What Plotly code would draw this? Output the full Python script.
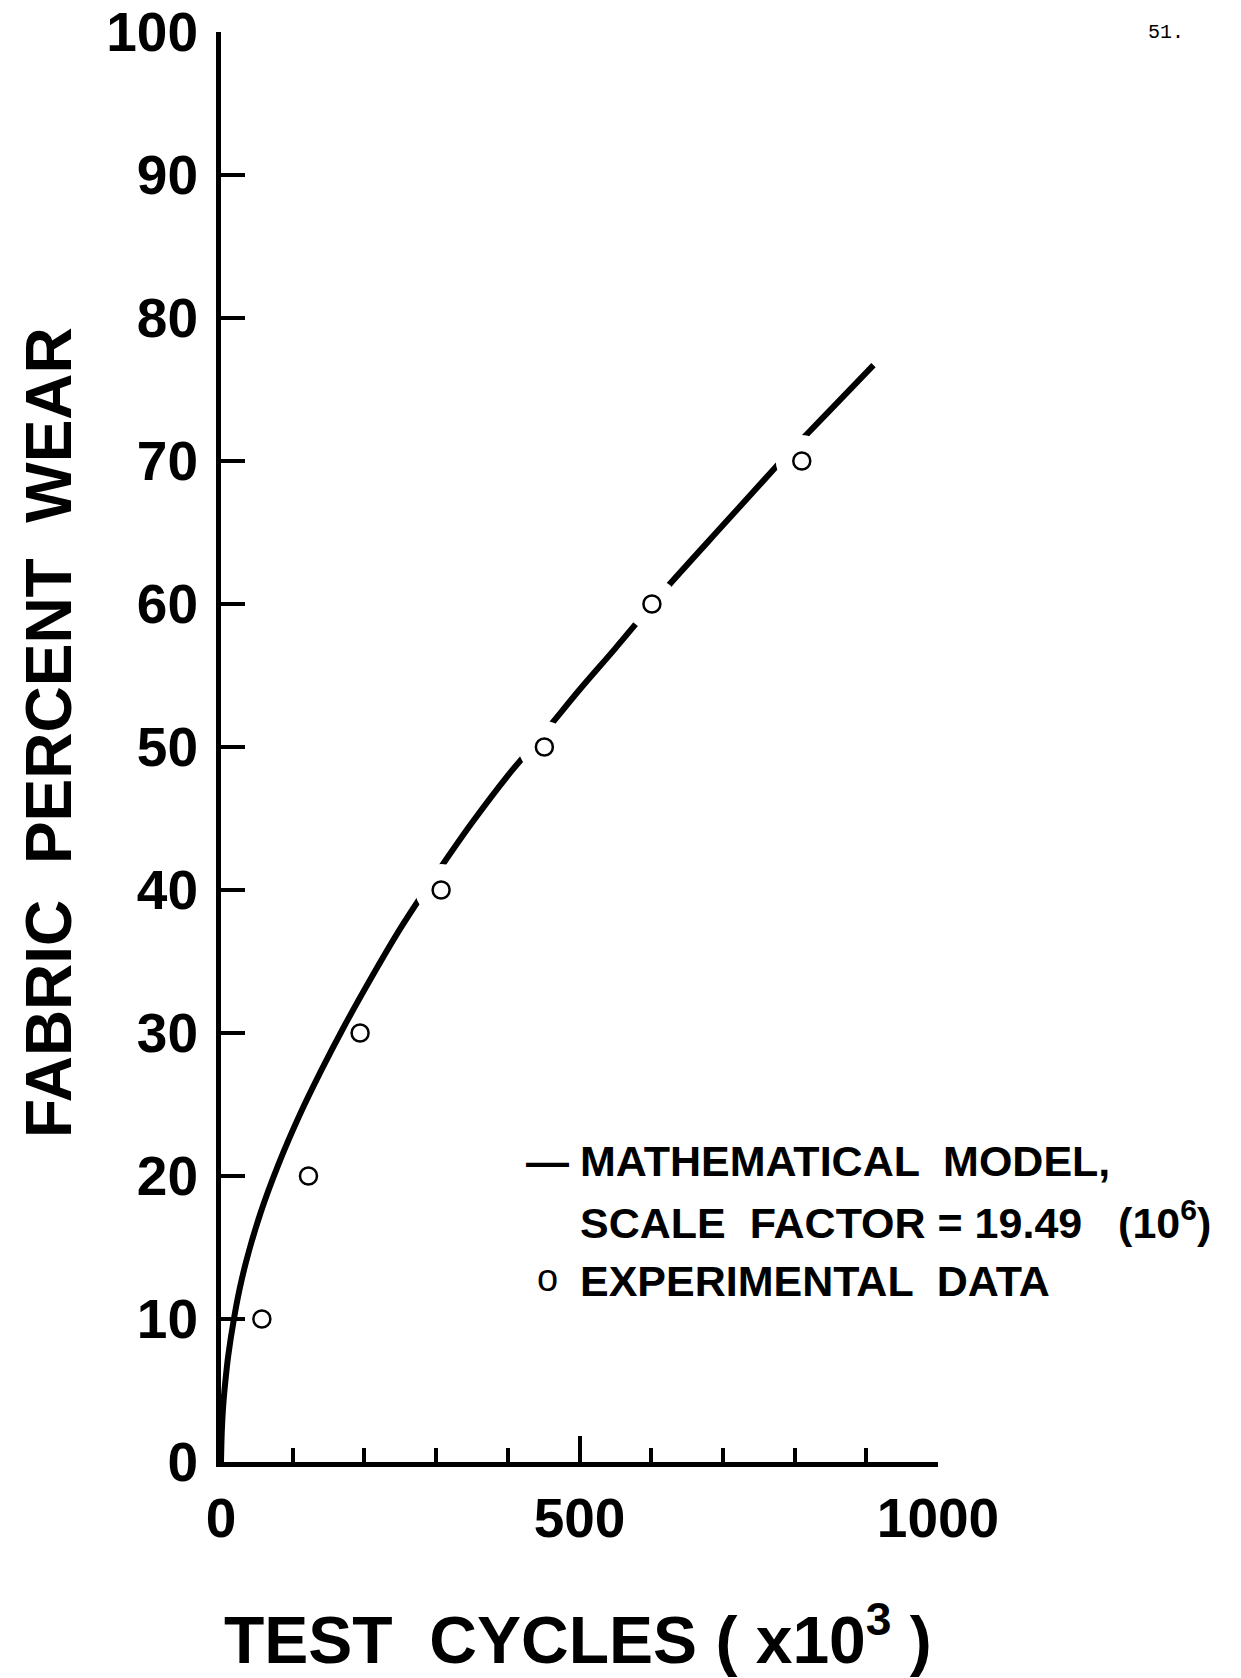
import plotly.graph_objects as go

exp_cycles = [57, 122, 194, 307, 451, 601, 810]
exp_wear = [10, 20, 30, 40, 50, 60, 70]

# Mathematical model curve
model_cycles = [0, 1, 3, 6, 10, 18, 26, 36, 55, 80, 110, 140, 170, 210, 250, 304, 350, 400, 454, 500, 550, 619, 700, 776, 808, 860, 910]
model_wear = [0, 2.0, 3.9, 5.6, 7.4, 10, 12.1, 14.2, 17.4, 20.8, 24.3, 27.4, 30.3, 33.9, 37.3, 41.4, 44.7, 48.0, 51.2, 54.0, 56.9, 61.0, 65.5, 69.7, 71.4, 74.1, 76.7]

x_ticks = [0, 500, 1000]
y_ticks = [0, 10, 20, 30, 40, 50, 60, 70, 80, 90, 100]

FONT = "Liberation Sans"

# white gap around the upper markers (the curve is broken there in the original)
halo_sizes = [0, 0, 0, 52, 52, 52, 52]

fig = go.Figure()
fig.add_trace(go.Scatter(x=model_cycles, y=model_wear, mode="lines",
                         line=dict(color="black", width=6, shape="spline", smoothing=0.8),
                         showlegend=False))
fig.add_trace(go.Scatter(x=exp_cycles, y=exp_wear, mode="markers",
                         marker=dict(symbol="circle", size=halo_sizes, color="white", opacity=1,
                                     line=dict(width=0)),
                         showlegend=False, hoverinfo="skip"))
fig.add_trace(go.Scatter(x=exp_cycles, y=exp_wear, mode="markers",
                         marker=dict(symbol="circle", size=17, color="white",
                                     line=dict(color="black", width=2.5)),
                         showlegend=False))

fig.update_layout(
    width=1241, height=1678,
    margin=dict(l=221, r=303, t=32, b=216, autoexpand=False),
    paper_bgcolor="white", plot_bgcolor="white",
    font=dict(family=FONT, color="black"),
    xaxis=dict(range=[0, 1000], tickvals=x_ticks, ticks="inside", ticklen=26, tickwidth=4,
               tickcolor="black", showline=True, linecolor="black", linewidth=5,
               showgrid=False, zeroline=False, automargin=False,
               tickfont=dict(family=FONT, size=55, color="black", weight="bold"),
               ticklabelstandoff=4,
               minor=dict(dtick=100, ticks="inside", ticklen=14, tickwidth=4, tickcolor="black", showgrid=False)),
    yaxis=dict(range=[0, 100], tickvals=y_ticks, ticks="inside", ticklen=24, tickwidth=4,
               tickcolor="black", showline=True, linecolor="black", linewidth=5,
               showgrid=False, zeroline=False, automargin=False,
               tickfont=dict(family=FONT, size=55, color="black", weight="bold"),
               ticklabelstandoff=7),
)

ann = []
ann.append(dict(text="TEST  CYCLES ( x10<sup>3</sup> )", xref="paper", yref="paper",
                x=0.498, y=-0.121, xanchor="center", yanchor="middle", showarrow=False,
                font=dict(family=FONT, size=66, color="black", weight="bold")))
ann.append(dict(text="FABRIC  PERCENT  WEAR", xref="paper", yref="paper",
                x=-0.241, y=0.51, xanchor="center", yanchor="middle", showarrow=False,
                textangle=-90,
                font=dict(family=FONT, size=64, color="black", weight="bold")))
ann.append(dict(text="51.", xref="paper", yref="paper", x=1.318, y=1.0,
                xanchor="center", yanchor="middle", showarrow=False,
                font=dict(family="Liberation Mono", size=20, color="black")))

leg_font = dict(family=FONT, size=43, color="black", weight="bold")
ann.append(dict(text="—", x=456, y=21.05, xref="x", yref="y", xanchor="center", yanchor="middle",
                showarrow=False, font=leg_font))
ann.append(dict(text="MATHEMATICAL  MODEL,", x=498, y=21.05, xref="x", yref="y",
                xanchor="left", yanchor="middle", showarrow=False, font=leg_font))
ann.append(dict(text="SCALE  FACTOR = 19.49   (10<sup>6</sup>)", x=498, y=16.9, xref="x", yref="y",
                xanchor="left", yanchor="middle", showarrow=False, font=leg_font))
ann.append(dict(text="o", x=456, y=12.85, xref="x", yref="y", xanchor="center", yanchor="middle",
                showarrow=False, font=dict(family=FONT, size=38, color="black")))
ann.append(dict(text="EXPERIMENTAL  DATA", x=498, y=12.66, xref="x", yref="y",
                xanchor="left", yanchor="middle", showarrow=False, font=leg_font))
fig.update_layout(annotations=ann)

fig.write_html("out.html")
